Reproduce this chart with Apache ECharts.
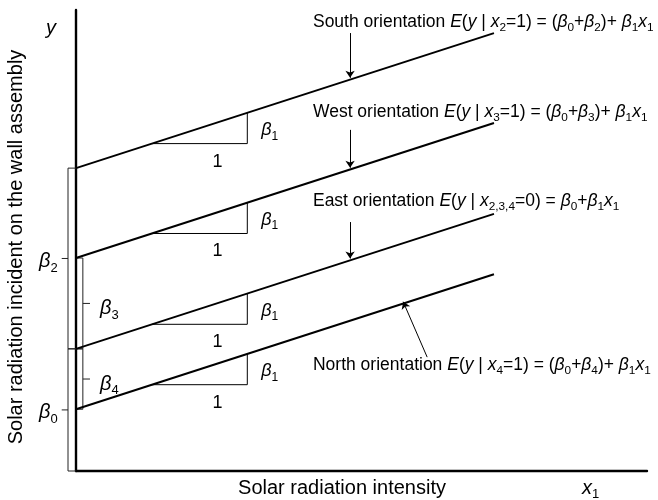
<!DOCTYPE html>
<html><head><meta charset="utf-8">
<script src="https://cdn.jsdelivr.net/npm/echarts@6.0.0/dist/echarts.min.js"></script>
<style>html,body{margin:0;padding:0;background:#fff}#c{width:658px;height:500px}</style>
</head><body><div id="c"></div>
<script>
// ---- data (schematic model units) ----
const orientations = ['South', 'West', 'East', 'North'];
const intercepts = [6.57, 4.62, 2.65, 1.34];
const slope = 0.40;
const lineXEnd = 7.32;
const triangleX = [1.33, 3.0];
const formulas = [
  '{n|South orientation }{i|E}{n|(}{i|y}{n| | }{i|x}{s|2}{n|=1) = (}{i|β}{s|0}{n|+}{i|β}{s|2}{n|)+ }{i|β}{s|1}{i|x}{s|1}',
  '{n|West orientation }{i|E}{n|(}{i|y}{n| | }{i|x}{s|3}{n|=1) = (}{i|β}{s|0}{n|+}{i|β}{s|3}{n|)+ }{i|β}{s|1}{i|x}{s|1}',
  '{n|East orientation }{i|E}{n|(}{i|y}{n| | }{i|x}{s|2,3,4}{n|=0) = }{i|β}{s|0}{n|+}{i|β}{s|1}{i|x}{s|1}',
  '{n|North orientation }{i|E}{n|(}{i|y}{n| | }{i|x}{s|4}{n|=1) = (}{i|β}{s|0}{n|+}{i|β}{s|4}{n|)+ }{i|β}{s|1}{i|x}{s|1}'
];
const formulaAnchors = [[4.15, 9.74], [4.15, 7.79], [4.15, 5.86], [4.15, 2.30]];
const arrowStarts = [[4.8, 9.50], [4.8, 7.40], [4.8, 5.40], [6.15, 2.47]];
const arrowEndX = [4.8, 4.8, 4.8, 5.73];
// brackets: [top, bottom, label]
const outerBrackets = [[intercepts[0], intercepts[2], '{i|β}{s|2}'], [intercepts[2], 0, '{i|β}{s|0}']];
const innerBrackets = [[intercepts[1], intercepts[2], '{i|β}{s|3}'], [intercepts[2], intercepts[3], '{i|β}{s|4}']];
const xAxisTitle = 'Solar radiation intensity';
const yAxisTitle = 'Solar radiation incident on the wall assembly';

const FONT = '"Liberation Sans", Arial, Helvetica, sans-serif';
const lineY = (i, x) => intercepts[i] + slope * x;

const chart = echarts.init(document.getElementById('c'), null, {renderer: 'canvas'});

const mainSeries = orientations.map((name, i) => ({
  type: 'line', name, showSymbol: false, symbol: 'none', clip: false,
  lineStyle: {color: '#000', width: 2},
  data: [[0, lineY(i, 0)], [lineXEnd, lineY(i, lineXEnd)]],
  z: 3
}));

const triangles = orientations.map((n, i) => ({
  coords: [[triangleX[0], lineY(i, triangleX[0])], [triangleX[1], lineY(i, triangleX[0])], [triangleX[1], lineY(i, triangleX[1])]]
}));

const ox = -0.14, oTick = -0.25, ix = 0.12, iTick = 0.245;
const bracketPolys = [];
outerBrackets.forEach(b => {
  bracketPolys.push({coords: [[0, b[0]], [ox, b[0]], [ox, b[1]], [0, b[1]]]});
  bracketPolys.push({coords: [[ox, (b[0] + b[1]) / 2], [oTick, (b[0] + b[1]) / 2]]});
});
innerBrackets.forEach(b => {
  bracketPolys.push({coords: [[0, b[0]], [ix, b[0]], [ix, b[1]], [0, b[1]]]});
  bracketPolys.push({coords: [[ix, (b[0] + b[1]) / 2], [iTick, (b[0] + b[1]) / 2]]});
});

const arrows = arrowStarts.map((s, i) => ({coords: [s, [arrowEndX[i], lineY(i, arrowEndX[i]) + 0.04]]}));

chart.setOption({
  animation: false,
  grid: {left: 76, right: 11, top: 10, bottom: 29},
  xAxis: {type: 'value', min: 0, max: 10, axisLine: {lineStyle: {color: '#000', width: 2.4}},
    axisTick: {show: false}, axisLabel: {show: false}, splitLine: {show: false}},
  yAxis: {type: 'value', min: 0, max: 10, axisLine: {lineStyle: {color: '#000', width: 2.4}},
    axisTick: {show: false}, axisLabel: {show: false}, splitLine: {show: false}},
  series: [
    ...mainSeries,
    {type: 'lines', coordinateSystem: 'cartesian2d', polyline: true, clip: false,
      lineStyle: {color: '#000', width: 1, opacity: 1}, data: triangles},
    {type: 'lines', coordinateSystem: 'cartesian2d', polyline: true, clip: false,
      lineStyle: {color: '#222', width: 1, opacity: 1}, data: bracketPolys},
    {type: 'lines', coordinateSystem: 'cartesian2d', polyline: false, clip: false,
      symbol: ['none', 'arrow'], symbolSize: [0, 7],
      lineStyle: {color: '#000', width: 1, opacity: 1}, data: arrows}
  ]
});

const P = (pt) => chart.convertToPixel({gridIndex: 0}, pt);
const richF = {
  n: {fontSize: 17.5, fontFamily: FONT, fill: '#000'},
  i: {fontSize: 17.5, fontFamily: FONT, fontStyle: 'italic', fill: '#000'},
  s: {fontSize: 11.8, fontFamily: FONT, fill: '#000', padding: [11.5, 0, 0, 0]}
};
const rich18 = {
  n: {fontSize: 18, fontFamily: FONT, fill: '#000'},
  i: {fontSize: 18, fontFamily: FONT, fontStyle: 'italic', fill: '#000'},
  s: {fontSize: 12, fontFamily: FONT, fill: '#000', padding: [12, 0, 0, 0]}
};
const rich20 = {
  n: {fontSize: 20, fontFamily: FONT, fill: '#000'},
  i: {fontSize: 20, fontFamily: FONT, fontStyle: 'italic', fill: '#000'},
  s: {fontSize: 13, fontFamily: FONT, fill: '#000', padding: [13, 0, 0, 0]}
};
function txt(text, xy, rich, align, extra) {
  return Object.assign({type: 'text', x: xy[0], y: xy[1], silent: true,
    style: {text, rich, align: align || 'left', verticalAlign: 'middle',
      textAlign: align || 'left', textVerticalAlign: 'middle', fill: '#000', font: '18px ' + FONT}}, extra || {});
}
const g = [];
formulas.forEach((f, i) => g.push(txt(f, P(formulaAnchors[i]), richF)));
orientations.forEach((n, i) => {
  const yMid = (lineY(i, triangleX[0]) + lineY(i, triangleX[1])) / 2;
  const pB = P([triangleX[1], yMid]);
  g.push(txt('{i|β}{s|1}', [pB[0] + 14, pB[1] + 2], rich18));
  const p1 = P([(triangleX[0] + triangleX[1]) / 2, lineY(i, triangleX[0])]);
  g.push(txt('{n|1}', [p1[0] + 18, p1[1] + 18], rich18, 'center'));
});
outerBrackets.forEach(b => {
  const p = P([oTick, (b[0] + b[1]) / 2]);
  g.push(txt(b[2], [p[0] - 4, p[1] + 3], rich20, 'right'));
});
innerBrackets.forEach(b => {
  const p = P([iTick, (b[0] + b[1]) / 2]);
  g.push(txt(b[2], [p[0] + 10, p[1] + 5], rich20, 'left'));
});
g.push(txt('{n|' + xAxisTitle + '}', [342, 488], rich20, 'center'));
g.push(txt('{i|x}{s|1}', [582, 488], rich20, 'left'));
g.push(txt('{i|y}', [51, 28], rich20, 'center'));
g.push(txt('{n|' + yAxisTitle + '}', [16, 247], rich20, 'center', {rotation: Math.PI / 2}));
chart.setOption({graphic: g});
</script></body></html>
